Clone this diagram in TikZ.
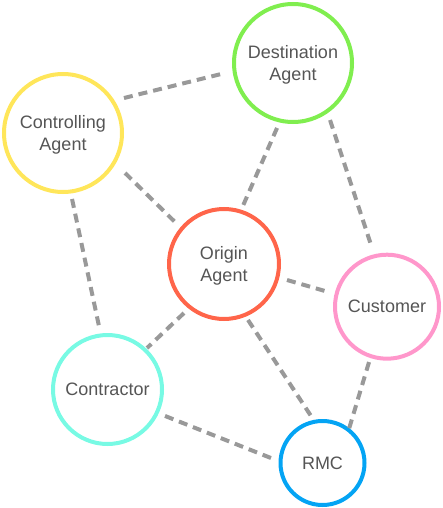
\documentclass[tikz,border=0pt]{standalone}
\usepackage{fontspec}
\setmainfont{Liberation Sans}
\usetikzlibrary{calc}
\definecolor{cgreen}{HTML}{80EE4F}
\definecolor{cyellow}{HTML}{FFE65A}
\definecolor{cred}{HTML}{FF654A}
\definecolor{cpink}{HTML}{FF97CB}
\definecolor{caqua}{HTML}{78FAE4}
\definecolor{cblue}{HTML}{04A4F4}
\definecolor{ctext}{HTML}{555555}
\definecolor{cdash}{HTML}{999999}
\begin{document}
\begin{tikzpicture}[x=1pt,y=1pt,
  agent/.style={circle,draw=#1,line width=4pt,inner sep=0pt,text=ctext,
    align=center,font=\fontsize{18}{22}\selectfont},
  twoline/.style={text depth=-2pt},
  link/.style={draw=cdash,line width=4pt,dash pattern=on 9pt off 6pt}]
\useasboundingbox (0,0) rectangle (442,-508);
\node[agent=cgreen,twoline,minimum size=118pt] (D) at (293,-63) {Destination\\Agent};
\node[agent=cyellow,twoline,minimum size=118pt] (C) at (63,-133) {Controlling\\Agent};
\node[agent=cred,twoline,minimum size=110pt] (O) at (224,-264) {Origin\\Agent};
\node[agent=cpink,minimum size=104pt] (Cu) at (387,-306.7) {Customer};
\node[agent=caqua,minimum size=109pt] (Co) at (107.5,-389.5) {Contractor};
\node[agent=cblue,minimum size=84pt] (R) at (322.5,-463) {RMC};
\draw[link] ($(C)+(29.85:70.3)$) -- ($(D)+(188.4:68.7)$);
\draw[link] ($(C)+(-32.8:73.8)$) -- ($(O)+(139.6:61.7)$);
\draw[link] ($(D)+(256.2:66.9)$) -- ($(O)+(72.2:58.8)$);
\draw[link] ($(D)+(-57:68)$) -- ($(Cu)+(104.3:60.6)$);
\draw[link] ($(C)+(-82.2:66.6)$) -- ($(Co)+(97.3:59)$);
\draw[link] ($(O)+(-14.25:65)$) -- ($(Cu)+(165.8:64)$);
\draw[link] ($(O)+(230.8:63.3)$) -- ($(Co)+(46.4:57.3)$);
\draw[link] ($(O)+(-66.8:60.9)$) -- ($(R)+(102.2:45)$);
\draw[link] ($(Cu)+(252:58.2)$) -- ($(R)+(52.1:43.1)$);
\draw[link] ($(Co)+(-24.7:63.3)$) -- ($(R)+(174.5:51.7)$);
\end{tikzpicture}
\end{document}
